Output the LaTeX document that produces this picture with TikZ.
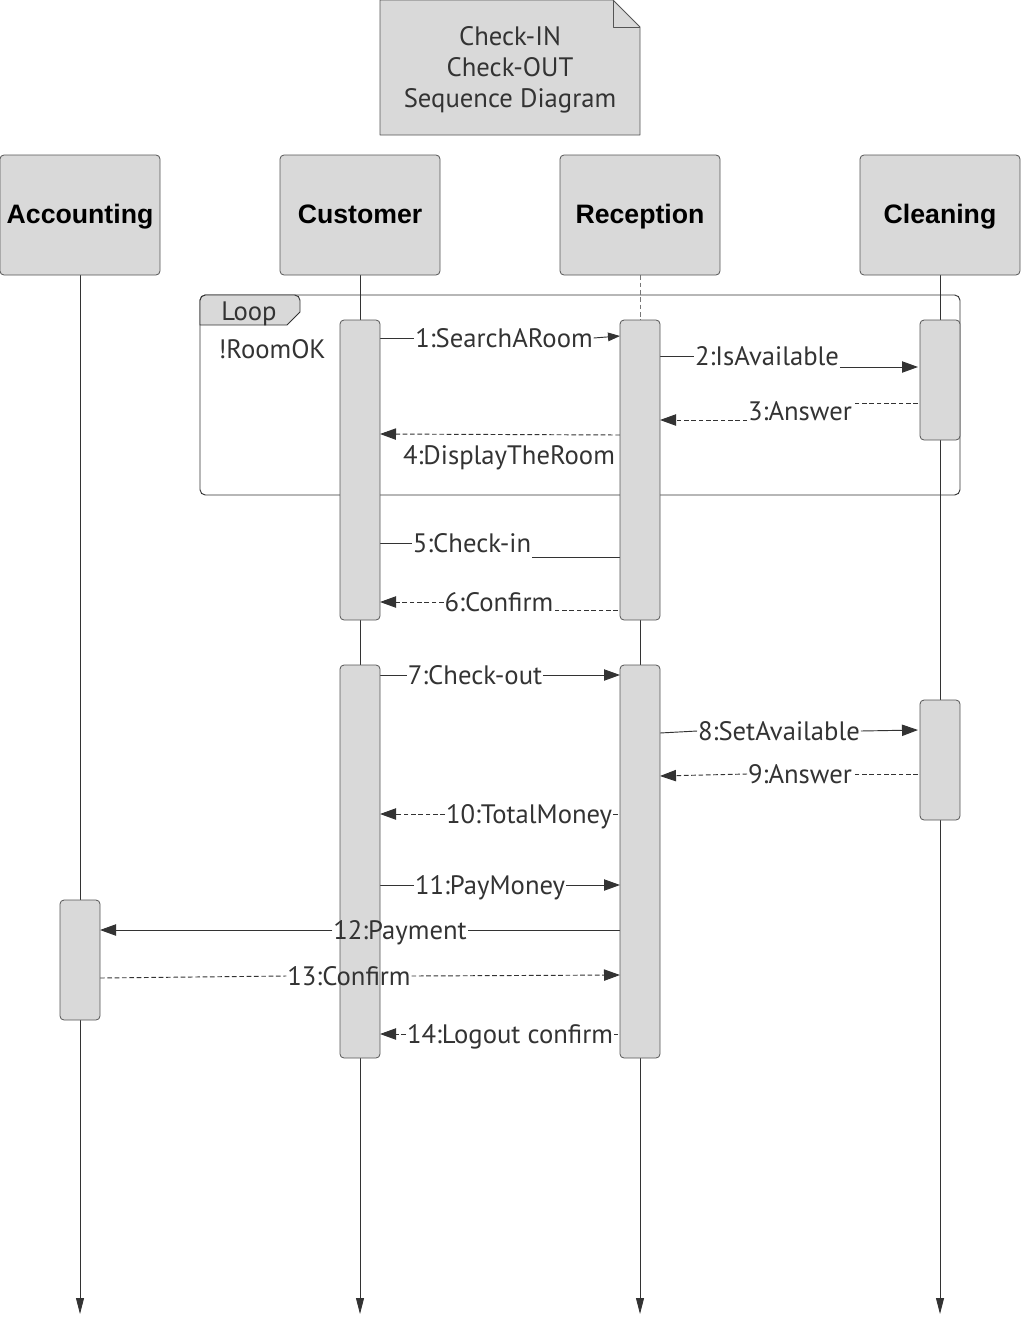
\documentclass[tikz,border=0pt]{standalone}
\usepackage{fontspec}
\setmainfont{PT Sans}
\newfontfamily\headfont{Liberation Sans}
\usetikzlibrary{arrows.meta}

\definecolor{boxgray}{RGB}{217,217,217}
\definecolor{edgegray}{RGB}{85,85,85}
\definecolor{inkgray}{RGB}{51,51,51}

\pgfdeclarelayer{wires}
\pgfdeclarelayer{bars}
\pgfsetlayers{wires,bars,main}

\tikzset{
  head/.style={draw=edgegray, fill=boxgray, rounded corners=3pt, line width=0.6pt,
    minimum width=120pt, minimum height=90pt, text=black,
    text height=14pt, text depth=2pt,
    font=\headfont\bfseries\fontsize{20}{24}\selectfont},
  actbar/.style={draw=edgegray, fill=boxgray, rounded corners=3pt, line width=0.6pt},
  life/.style={draw=inkgray, line width=0.6pt},
  lifeend/.style={-{Triangle[length=12pt,width=6pt]}},
  msg/.style={inner sep=0.5pt, text=inkgray, text height=14pt, text depth=0pt,
    font=\fontsize{20}{24}\selectfont},
  call/.style={draw=inkgray, line width=0.7pt},
  reply/.style={call, dash pattern=on 3.5pt off 2pt},
  tip/.style={-{Triangle[length=12pt,width=8.5pt]}},
  frame/.style={draw=inkgray, line width=0.7pt},
}

\begin{document}
\begin{tikzpicture}[x=0.75pt, y=-0.75pt, line join=round]
\useasboundingbox (0,0) rectangle (1023,1320);

% title note
\draw[frame, draw=edgegray, fill=boxgray] (380,0) -- (613,0) -- (640,27) -- (640,135) -- (380,135) -- cycle;
\draw[frame, draw=edgegray] (613,0) -- (613,27) -- (640,27);
\node[text=inkgray, align=center, font=\fontsize{20}{23.5}\selectfont] (title) at (510,70) {Check-IN\\Check-OUT\\Sequence Diagram};

% loop frame
\begin{pgfonlayer}{wires}
\draw[frame, rounded corners=4pt] (200,295) rectangle (960,495);
\draw[frame, fill=boxgray] (200,325) [rounded corners=4pt] -- (200,295) -- (300,295) [sharp corners] -- (300,312) -- (287,325) -- cycle;
\end{pgfonlayer}
\node[msg] (looptag) at (249,311) {Loop};
\node[msg] (guard) at (272,349) {!RoomOK};

% lifelines
\node[head] (acc) at (80,215) {Accounting};
\node[head] (cus) at (360,215) {Customer};
\node[head] (rec) at (640,215) {Reception};
\node[head] (cle) at (940,215) {Cleaning};
\coordinate (accEnd) at (80,1314);
\coordinate (cusEnd) at (360,1314);
\coordinate (recEnd) at (640,1314);
\coordinate (cleEnd) at (940,1314);
\coordinate (recTop) at (640,320);
\begin{pgfonlayer}{wires}
\draw[life, lifeend] (acc.south) -- (accEnd);
\draw[life, lifeend] (cus.south) -- (cusEnd);
\draw[life, draw=edgegray!80, dash pattern=on 3.5pt off 2pt] (rec.south) -- (recTop);
\draw[life, lifeend] (recTop) -- (recEnd);
\draw[life, lifeend] (cle.south) -- (cleEnd);
\end{pgfonlayer}

% message ends
\coordinate (m1s) at (380,338);  \coordinate (m1t) at (620,336);
\coordinate (m2s) at (660,356);  \coordinate (m2t) at (918,367);
\coordinate (m3s) at (918,403);  \coordinate (m3t) at (660,420);
\coordinate (m4s) at (620,435);  \coordinate (m4t) at (380,434);
\coordinate (m5s) at (380,543);  \coordinate (m5t) at (620,557);
\coordinate (m6s) at (618,610);  \coordinate (m6t) at (380,602);
\coordinate (m7s) at (380,675);  \coordinate (m7t) at (620,675);
\coordinate (m8s) at (660,733);  \coordinate (m8t) at (918,730);
\coordinate (m9s) at (918,774);  \coordinate (m9t) at (660,776);
\coordinate (m10s) at (618,814); \coordinate (m10t) at (380,814);
\coordinate (m11s) at (380,885); \coordinate (m11t) at (620,885);
\coordinate (m12s) at (620,930); \coordinate (m12t) at (100,930);
\coordinate (m13s) at (100,978); \coordinate (m13t) at (620,975);
\coordinate (m14s) at (618,1034); \coordinate (m14t) at (380,1034);

% message labels
\node[msg] (m1) at (504,338) {1:SearchARoom};
\node[msg] (m2) at (767,356) {2:IsAvailable};
\node[msg] (m3) at (800,411) {3:Answer};
\node[msg] (m4) at (509,455) {4:DisplayTheRoom};
\node[msg] (m5) at (472,543) {5:Check-in};
\node[msg] (m6) at (499,602) {6:Confirm};
\node[msg] (m7) at (475,675) {7:Check-out};
\node[msg] (m8) at (779,731) {8:SetAvailable};
\node[msg] (m9) at (800,774) {9:Answer};
\node[msg] (m10) at (529,814) {10:TotalMoney};
\node[msg] (m11) at (490,885) {11:PayMoney};
\node[msg] (m12) at (400,930) {12:Payment};
\node[msg] (m13) at (349,976) {13:Confirm};
\node[msg] (m14) at (510,1034) {14:Logout confirm};

% messages
\begin{pgfonlayer}{wires}
\draw[call] (m1s) -- (m1.west);
\draw[call, -{Triangle[length=9pt,width=6.5pt]}] (m1.east) -- (m1t);
\draw[call] (m2s) -- (m2.west);
\draw[call, tip] (m2.east |- m2t) -- (m2t);
\draw[reply] (m3s) -- (m3.east |- m3s);
\draw[reply, tip] (m3.west |- m3t) -- (m3t);
\draw[reply, tip] (m4s) -- (m4t);
\draw[call] (m5s) -- (m5.west);
\draw[call] (m5.east |- m5t) -- (m5t);
\draw[reply] (m6s) -- (m6.east |- m6s);
\draw[reply, tip] (m6.west) -- (m6t);
\draw[call] (m7s) -- (m7.west);
\draw[call, tip] (m7.east) -- (m7t);
\draw[call] (m8s) -- (m8.west);
\draw[call, tip] (m8.east) -- (m8t);
\draw[reply] (m9s) -- (m9.east);
\draw[reply, tip] (m9.west) -- (m9t);
\draw[reply] (m10s) -- (m10.east);
\draw[reply, tip] (m10.west) -- (m10t);
\draw[call] (m11s) -- (m11.west);
\draw[call, tip] (m11.east) -- (m11t);
\draw[call] (m12s) -- (m12.east);
\draw[call, tip] (m12.west) -- (m12t);
\draw[reply] (m13s) -- (m13.west);
\draw[reply, tip] (m13.east) -- (m13t);
\draw[reply] (m14s) -- (m14.east);
\draw[reply, tip] (m14.west) -- (m14t);
\end{pgfonlayer}

% activation bars
\begin{pgfonlayer}{bars}
\draw[actbar] (340,320) rectangle (380,620);
\draw[actbar] (620,320) rectangle (660,620);
\draw[actbar] (920,320) rectangle (960,440);
\draw[actbar] (340,665) rectangle (380,1058);
\draw[actbar] (620,665) rectangle (660,1058);
\draw[actbar] (920,700) rectangle (960,820);
\draw[actbar] (60,900) rectangle (100,1020);
\end{pgfonlayer}

\end{tikzpicture}
\end{document}
